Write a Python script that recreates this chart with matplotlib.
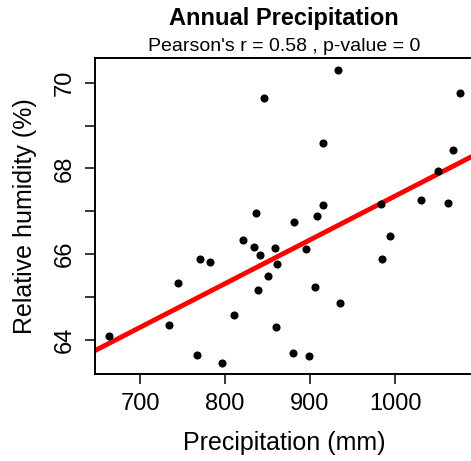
import numpy as np
import matplotlib
matplotlib.use('Agg')
import matplotlib.pyplot as plt

# precipitation (mm) and relative humidity (%)
precip = [663.5, 845.5, 836.5, 820.8, 834.1, 841.2, 858.8, 861.6, 850.6,
          770.9, 782.7, 745.1, 838.8, 734.5, 810.9, 859.6, 767.1, 796.1,
          933.3, 1076.1, 915.3, 1068.2, 1050.9, 1030.2, 1062.7, 983.5,
          914.9, 908.6, 881.2, 994.1, 895.3, 985.1, 905.9, 935.7, 880.0,
          898.5]
humidity = [64.08, 69.65, 66.97, 66.32, 66.16, 65.97, 66.14, 65.76, 65.48,
            65.89, 65.82, 65.32, 65.17, 64.34, 64.57, 64.29, 63.64, 63.46,
            70.31, 69.76, 68.59, 68.43, 67.94, 67.26, 67.20, 67.17,
            67.14, 66.88, 66.74, 66.42, 66.13, 65.89, 65.23, 64.85, 63.68,
            63.61]
xticks = [700, 800, 900, 1000]
yticks = [64, 65, 66, 67, 68, 69, 70]
ytick_labels = ['64', '', '66', '', '68', '', '70']

plt.rcParams['font.family'] = ['Liberation Sans', 'DejaVu Sans']

fig = plt.figure(figsize=(4.71, 4.61), dpi=100)
W, H = 471, 461
ax = fig.add_axes([95 / W, 1 - 374 / H, (474 - 95) / W, (374 - 58) / H])

ax.scatter(precip, humidity, s=34, color='black', zorder=3, linewidths=0)

xlim = (647, 647 + 379 / 0.85)
slope, icpt = np.polyfit(precip, humidity, 1)
xs = np.array(xlim)
ax.plot(xs, slope * xs + icpt, color='red', lw=3.5, zorder=2,
        solid_capstyle='butt')

ax.set_xlim(*xlim)
ax.set_ylim(63.2, 70.58)
ax.set_xticks(xticks)
ax.set_yticks(yticks)
ax.set_yticklabels(ytick_labels, rotation=90, va='center')
ax.tick_params(direction='out', length=7, width=1.1, labelsize=17, pad=7)
for sp in ax.spines.values():
    sp.set_linewidth(1.4)

ax.set_xlabel('Precipitation (mm)', fontsize=18, labelpad=11)
ax.set_ylabel('Relative humidity (%)', fontsize=18, labelpad=12)

fig.text(284 / W, 1 - 25 / H, 'Annual Precipitation', ha='center',
         va='baseline', fontsize=17, fontweight='bold')
fig.text(284 / W, 1 - 51 / H, "Pearson's r = 0.58 , p-value = 0",
         ha='center', va='baseline', fontsize=14)

fig.savefig('out.png', dpi=100)
